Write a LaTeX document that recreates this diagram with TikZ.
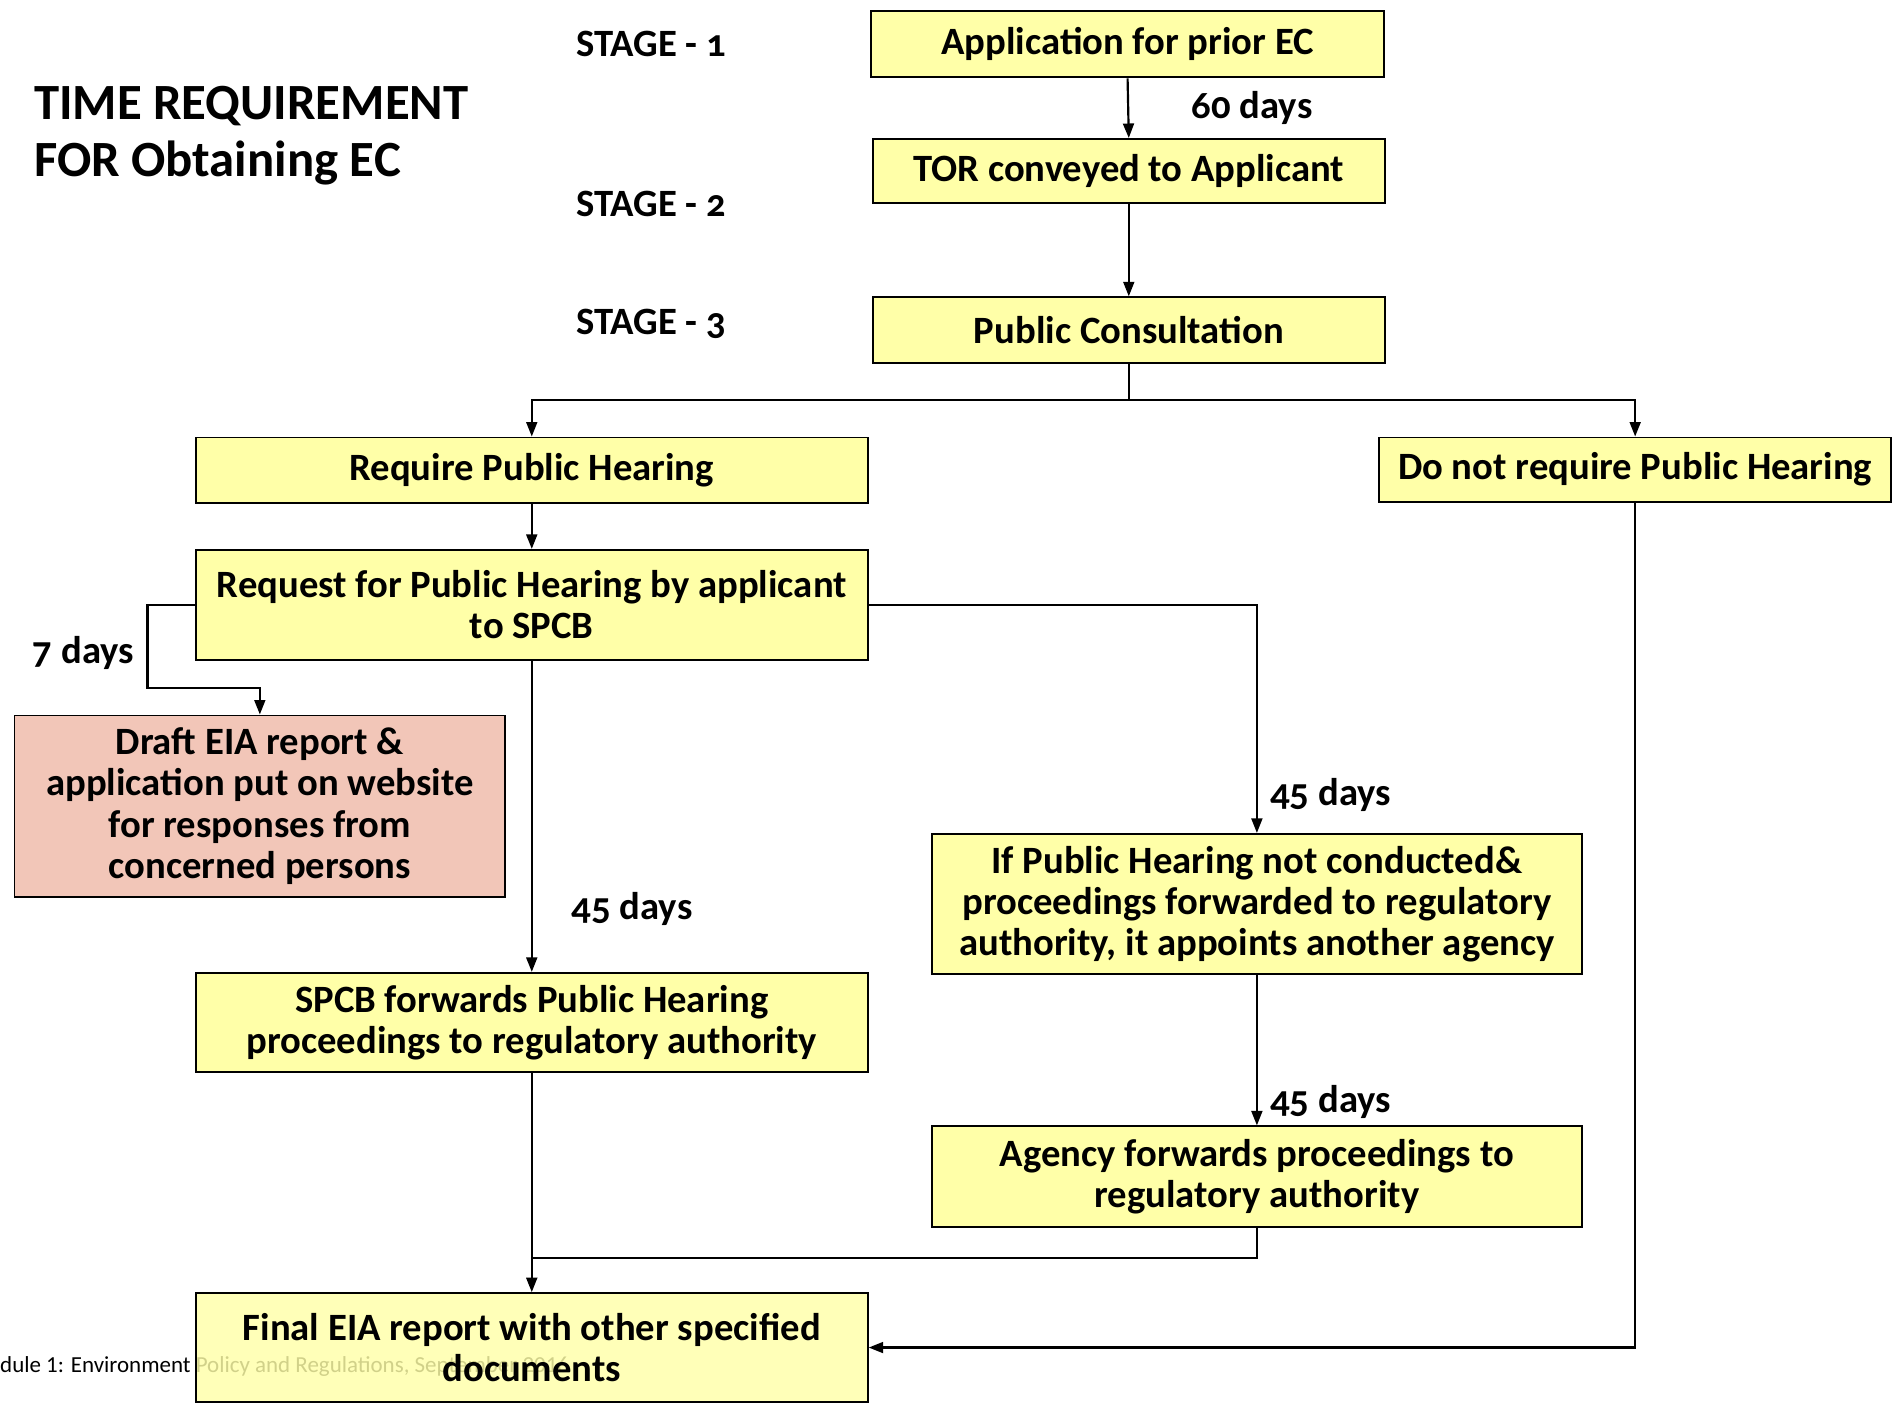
\documentclass[tikz,border=0pt]{standalone}
\usepackage{fontspec}
\setmainfont{Carlito}[Numbers=OldStyle]
\newfontfamily\footfont{Carlito}
\usetikzlibrary{arrows.meta}
\definecolor{boxyellow}{HTML}{FFFFA8}
\definecolor{boxpink}{HTML}{F2C6B8}
\tikzset{
  box/.style={draw=black, line width=1.6pt, fill=boxyellow, align=center, inner sep=0pt,
    font=\bfseries\fontsize{32}{34}\selectfont},
  pinkbox/.style={box, fill=boxpink},
  conn/.style={line width=1.8pt, -{Triangle[length=12pt,width=9pt]}},
  plain/.style={line width=1.8pt},
  lbl/.style={font=\bfseries\fontsize{32}{34}\selectfont, inner sep=0pt},
  stagelbl/.style={font=\bfseries\fontsize{32}{34}\selectfont, inner sep=0pt, anchor=west},
  titlelbl/.style={font=\bfseries\fontsize{42}{46}\selectfont, inner sep=0pt, anchor=west},
}
\begin{document}
\begin{tikzpicture}[x=1pt,y=-1pt]
\useasboundingbox (0,0) rectangle (1568,1162);

% title and stages
\node[titlelbl] (t1) at (28,88) {TIME REQUIREMENT};
\node[titlelbl] (t2) at (28,135) {FOR Obtaining EC};
\node[stagelbl] (s1) at (477,36) {STAGE - 1};
\node[stagelbl] (s2) at (477,169) {STAGE - 2};
\node[stagelbl] (s3) at (477,268) {STAGE - 3};

% footer (partly behind the final box)
\node[font=\footfont\fontsize{19}{21}\selectfont, inner sep=0pt, anchor=west] (foot) at (0,1131) {dule 1: Environment Policy and Regulations, September 2016};

% boxes
\node[box, minimum width=424pt, minimum height=55pt] (A) at (933,36.5) {Application for prior EC};
\node[box, minimum width=424pt, minimum height=53pt] (B) at (934,141.5) {TOR conveyed to Applicant};
\node[box, minimum width=424pt, minimum height=54pt] (C) at (934,273) {Public Consultation};
\node[box, minimum width=556pt, minimum height=54pt] (D) at (440,389) {Require Public Hearing};
\node[box, minimum width=424pt, minimum height=53pt] (E) at (1353,388.5) {Do not require Public Hearing};
\node[box, minimum width=556pt, minimum height=91pt] (F) at (440,500.5) {Request for Public Hearing by applicant\\to SPCB};
\node[pinkbox, minimum width=406pt, minimum height=150pt] (G) at (215,667) {Draft EIA report \&\\application put on website\\for responses from\\concerned persons};
\node[box, minimum width=538pt, minimum height=116pt] (H) at (1040,748) {If Public Hearing not conducted\&\\proceedings forwarded to regulatory\\authority, it appoints another agency};
\node[box, minimum width=556pt, minimum height=82pt] (I) at (440,846) {SPCB forwards Public Hearing\\proceedings to regulatory authority};
\node[box, minimum width=538pt, minimum height=83pt] (J) at (1040,973.5) {Agency forwards proceedings to\\regulatory authority};
\node[box, minimum width=556pt, minimum height=90pt, fill opacity=0.82, text opacity=1] (K) at (440,1115) {Final EIA report with other specified\\documents};

% helper coordinates
\coordinate (br) at (934,331);
\coordinate (p7) at (122,569);
\coordinate (jn) at (440,1041);

% connectors
\draw[conn] (A.south) -- (B.north);
\draw[conn] (B.south) -- (C.north);
\draw[plain] (C.south) -- (br);
\draw[conn] (br) -| (D.north);
\draw[conn] (br) -| (E.north);
\draw[conn] (D.south) -- (F.north);
\draw[conn] (F.west) -| (p7) -| (G.north);
\draw[conn] (F.east) -| (H.north);
\draw[conn] (F.south) -- (I.north);
\draw[conn] (H.south) -- (J.north);
\draw[conn] (I.south) -- (K.north);
\draw[plain] (J.south) |- (jn);
\draw[conn] (E.south) |- (K.east);

% labels
\node[lbl] (l60) at (1036,89) {60 days};
\node[lbl] (l7) at (69,540) {7 days};
\node[lbl] (l45a) at (523,752) {45 days};
\node[lbl] (l45b) at (1101,658) {45 days};
\node[lbl] (l45c) at (1101,912) {45 days};
\end{tikzpicture}
\end{document}
